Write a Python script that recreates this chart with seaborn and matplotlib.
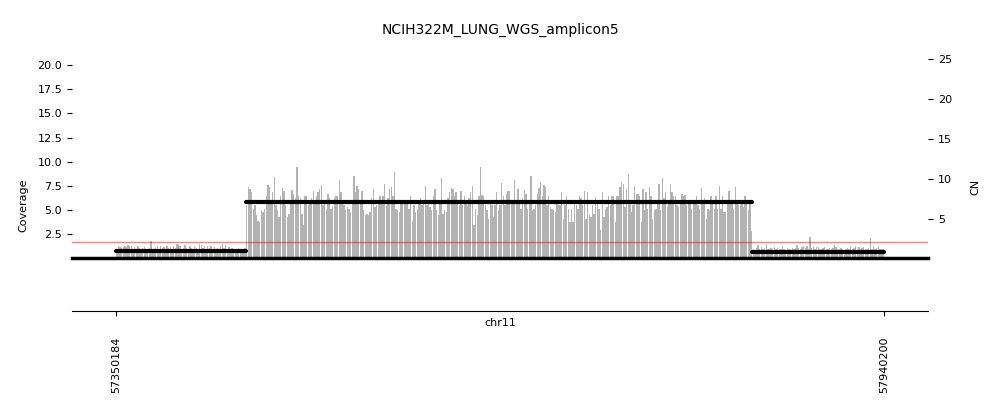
import numpy as np
import pandas as pd
import matplotlib
matplotlib.use("Agg")
import matplotlib.pyplot as plt
import seaborn as sns

# Datos
titulo = "NCIH322M_LUNG_WGS_amplicon5"
cromosoma = "chr11"
inicio, fin = 57350184, 57940200

# cobertura por ventana (izquierda baja, amplicón, derecha baja)
cov_izq = [1.0, 1.25, 1.2, 1.1, 1.15, 1.25, 1.2, 1.4, 1.25, 1.25,
           1.0, 1.15, 1.0, 1.25, 1.05, 0.95, 1.1, 1.15, 1.0, 0.95,
           1.05, 1.75, 1.0, 0.95, 1.15, 1.25, 1.0, 1.25, 1.05, 1.15,
           1.0, 1.3, 1.05, 1.15, 1.0, 1.3, 1.1, 1.45, 1.35, 1.25,
           1.0, 1.1, 1.35, 1.05, 0.95, 1.3, 1.05, 1.0, 1.25, 1.1,
           1.0, 1.45, 1.35, 1.05, 1.25, 1.0, 1.3, 1.05, 1.25, 1.0,
           1.15, 0.95, 1.05, 1.0, 1.3, 1.45, 1.05, 1.35, 1.0, 1.15,
           0.95, 1.05, 0.9, 1.0, 0.95, 1.05, 0.9, 1.0, 0.95, 1.05]

cov_amp = [5.5, 7.4, 7.2, 6.9, 5.1, 5.5, 4.5, 3.9, 3.8, 5.0,
           4.8, 5.1, 6.4, 7.6, 7.4, 5.8, 6.9, 8.4, 5.5, 5.0,
           4.3, 6.4, 7.3, 7.0, 5.5, 4.3, 4.6, 5.8, 7.1, 6.7,
           6.2, 9.4, 6.5, 6.2, 4.6, 3.4, 6.5, 6.5, 5.5, 5.8,
           6.2, 7.0, 6.0, 6.4, 6.9, 7.2, 7.6, 5.5, 5.8, 5.1,
           6.7, 6.2, 5.1, 5.3, 6.2, 6.4, 6.5, 8.1, 6.9, 5.7,
           5.5, 5.0, 5.3, 5.1, 4.8, 5.7, 8.5, 6.9, 7.5, 7.2,
           5.7, 7.0, 5.0, 4.5, 4.6, 4.5, 4.8, 6.2, 7.2, 5.3,
           5.5, 5.8, 6.5, 5.7, 6.4, 7.7, 5.5, 6.2, 7.2, 7.4,
           6.5, 8.9, 5.1, 5.0, 4.8, 6.0, 5.7, 6.0, 5.8, 5.7,
           5.1, 6.4, 3.9, 5.5, 4.8, 5.1, 5.7, 6.2, 5.5, 5.7,
           7.5, 5.5, 5.6, 5.3, 5.0, 6.4, 7.2, 5.0, 4.5, 5.8,
           8.3, 4.6, 5.0, 4.8, 6.2, 6.9, 7.3, 7.2, 6.4, 6.9,
           6.0, 5.5, 7.0, 5.5, 6.5, 5.8, 5.5, 6.2, 6.9, 7.5,
           3.4, 5.1, 4.5, 6.5, 9.5, 6.6, 6.4, 5.5, 5.0, 4.1,
           5.7, 5.5, 4.3, 5.5, 6.9, 5.0, 5.5, 7.8, 6.4, 5.5,
           6.7, 7.0, 7.0, 5.7, 5.8, 8.1, 5.8, 7.2, 6.0, 5.1,
           6.2, 7.1, 6.7, 5.1, 5.8, 8.5, 5.0, 5.1, 5.5, 6.7,
           7.3, 7.9, 6.5, 7.6, 7.4, 5.5, 6.5, 5.3, 5.1, 5.0,
           4.8, 5.7, 5.5, 5.5, 6.9, 4.1, 5.5, 6.4, 5.1, 3.8,
           5.1,
           3.8, 5.7, 5.5, 5.1, 6.4, 6.2, 5.5, 7.0, 4.1, 6.9,
           4.5, 4.3, 5.5, 4.6, 6.3, 5.7, 5.1, 2.9, 6.9, 4.3,
           5.1, 5.3, 6.4, 5.5, 6.5, 6.4, 3.8, 6.5, 6.5, 7.4,
           7.9, 7.7, 5.3, 7.2, 8.7, 5.8, 4.8, 5.5, 7.5, 6.7,
           6.7, 6.5, 3.8, 7.2, 5.0, 6.9, 5.1, 7.4, 6.4, 4.1,
           5.0, 5.1, 5.8, 7.7, 5.0, 8.3, 6.2, 6.9, 5.3, 5.7,
           7.7, 6.9, 6.5, 6.4, 5.5, 5.3, 5.7, 6.7, 6.5, 6.6,
           5.5, 6.0, 5.8, 5.1, 5.8, 6.0, 6.5, 5.5, 5.1, 7.3,
           5.7, 6.2, 4.1, 5.1, 5.0, 6.5, 5.8, 5.1, 6.4, 5.1,
           7.5, 5.1, 6.4, 4.8, 4.8, 5.8, 7.0, 5.7, 6.0, 5.1,
           7.4, 5.7, 5.5,
           5.5, 6.0, 5.3, 6.4, 5.8, 5.0, 6.0, 2.8]

cov_der = [1.0, 0.9, 1.1, 1.35, 1.0, 1.2, 0.95, 1.05, 1.5, 1.0,
           0.95, 1.05, 1.0, 1.2, 0.95, 1.05, 1.0, 0.95, 1.25, 1.0,
           0.9, 1.05, 1.0, 0.95, 1.05, 1.0, 1.1, 1.4, 1.05, 1.0,
           1.2, 1.25, 1.1, 1.25, 1.0, 2.2, 1.05, 1.2, 1.0, 1.2,
           1.15, 1.0, 0.95, 1.05, 1.2, 1.0, 0.95, 1.05, 1.0, 1.1,
           1.4, 1.2, 1.0, 0.95, 1.05, 1.0, 0.9, 1.0, 1.05, 0.95,
           1.25, 1.0, 1.05, 1.25, 1.0, 1.2, 0.95, 1.05, 1.2, 1.0,
           0.95, 1.05, 2.05, 1.0, 1.25, 1.0, 1.05, 1.3, 1.0, 0.95,
           1.0]

# segmentos de número de copias
seg_ini = [57350184, 57449980, 57839170]
seg_fin = [57449980, 57839170, 57940200]
seg_cn = [0.92, 7.1, 0.85]

cobertura = cov_izq + cov_amp + cov_der
n_bins = len(cobertura)
paso = (fin - inicio) / n_bins
df = pd.DataFrame({"pos": inicio + paso * (np.arange(n_bins) + 0.5),
                   "cov": cobertura})

sns.set_style("ticks")
plt.rcParams.update({"axes.edgecolor": "black", "xtick.color": "black",
                     "ytick.color": "black", "text.color": "black",
                     "axes.labelcolor": "black"})
plt.rcParams["font.family"] = ["DejaVu Sans"]

fig = plt.figure(figsize=(10, 4.16), dpi=100)
xlim = (57316381, 57974003)

# Panel principal: cobertura
ax = fig.add_axes([0.072, 1 - 258.3 / 416, 0.856, 207.7 / 416])
sns.histplot(data=df, x="pos", weights="cov", bins=n_bins, binrange=(inicio, fin),
             ax=ax, color="#b3b3b3", alpha=1, linewidth=0, shrink=0.85)
ax.set_xlim(*xlim)
ax.set_ylim(0, 21.5)
ax.set_yticks([2.5, 5, 7.5, 10, 12.5, 15, 17.5, 20])
ax.set_xticks([])
ax.set_xlabel("")
ax.tick_params(axis="y", labelsize=8)
for s in ["left", "right", "top"]:
    ax.spines[s].set_visible(False)
ax.spines["bottom"].set_linewidth(2.5)
ax.set_ylabel("Coverage", fontsize=8)
ax.yaxis.set_label_coords(-0.051, 0.257)

# Eje derecho: CN
ax2 = ax.twinx()
ax2.set_ylim(0, 26.1)
ax2.set_yticks([5, 10, 15, 20, 25])
ax2.tick_params(axis="y", labelsize=8)
for s in ax2.spines.values():
    s.set_visible(False)
ax2.axhline(2, color="red", alpha=0.5, lw=1)
for s, e, c in zip(seg_ini, seg_fin, seg_cn):
    ax2.plot([s, e], [c, c], color="black", lw=3)
ax2.set_ylabel("CN", fontsize=8)
ax2.yaxis.set_label_coords(1.049, 0.343)

# Eje inferior con coordenadas del cromosoma
axb = fig.add_axes([0.072, 1 - 311.3 / 416, 0.856, 0.001])
axb.set_xlim(*xlim)
axb.set_xticks([inicio, fin])
axb.set_xticklabels([str(inicio), str(fin)], rotation=90, fontsize=8)
axb.tick_params(axis="x", pad=15)
axb.set_yticks([])
for s in ["left", "right", "top"]:
    axb.spines[s].set_visible(False)

fig.text(0.5, 1 - 323 / 416, cromosoma, ha="center", va="center", fontsize=8)
fig.text(0.5, 1 - 30 / 416, titulo, ha="center", va="center", fontsize=10)

fig.savefig("out.png", dpi=100)
